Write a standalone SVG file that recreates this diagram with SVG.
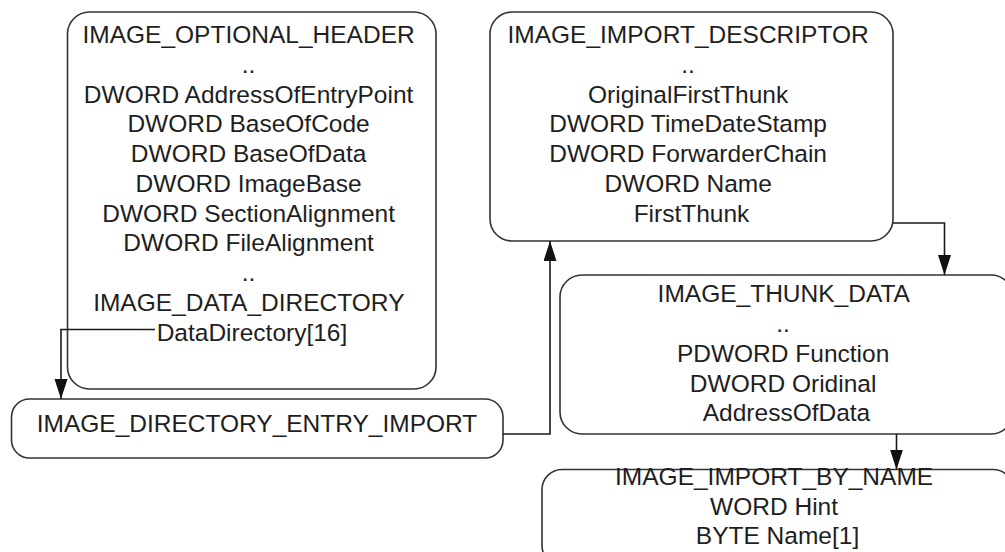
<svg xmlns="http://www.w3.org/2000/svg" width="1005" height="552" viewBox="0 0 1005 552">
  <style>
    .box { fill: #ffffff; stroke: #333333; stroke-width: 1.6; }
    .lbl { font-family: "Liberation Sans", Arial, sans-serif; font-size: 24.5px; fill: #1e1e1e; text-anchor: middle; }
    .wire { fill: none; stroke: #1a1a1a; stroke-width: 1.6; }
  </style>
  <defs>
    <marker id="arrow" markerUnits="userSpaceOnUse" markerWidth="20" markerHeight="14" refX="20" refY="6.5" orient="auto">
      <path d="M0,0 L20,6.5 L0,13 z" fill="#111111"/>
    </marker>
  </defs>

  <rect width="1005" height="552" fill="#ffffff"/>

  <!-- IMAGE_OPTIONAL_HEADER -->
  <g id="optional-header">
    <rect class="box" x="67.5" y="12" width="368.5" height="377" rx="22" ry="22"/>
    <text class="lbl">
      <tspan x="252" y="43">IMAGE_OPTIONAL_HEADER</tspan>
      <tspan x="252" y="72.75">..</tspan>
      <tspan x="252" y="102.5">DWORD AddressOfEntryPoint</tspan>
      <tspan x="252" y="132.25">DWORD BaseOfCode</tspan>
      <tspan x="252" y="162">DWORD BaseOfData</tspan>
      <tspan x="252" y="191.75">DWORD ImageBase</tspan>
      <tspan x="252" y="221.5">DWORD SectionAlignment</tspan>
      <tspan x="252" y="251.25">DWORD FileAlignment</tspan>
      <tspan x="252" y="281">..</tspan>
      <tspan x="252" y="310.75">IMAGE_DATA_DIRECTORY</tspan>
      <tspan x="252" y="340.5">DataDirectory[16]</tspan>
    </text>
  </g>

  <!-- IMAGE_IMPORT_DESCRIPTOR -->
  <g id="import-descriptor">
    <rect class="box" x="490" y="12" width="403" height="229" rx="22" ry="22"/>
    <text class="lbl">
      <tspan x="691.5" y="43">IMAGE_IMPORT_DESCRIPTOR</tspan>
      <tspan x="691.5" y="72.75">..</tspan>
      <tspan x="691.5" y="102.5">OriginalFirstThunk</tspan>
      <tspan x="691.5" y="132.25">DWORD TimeDateStamp</tspan>
      <tspan x="691.5" y="162">DWORD ForwarderChain</tspan>
      <tspan x="691.5" y="191.75">DWORD Name</tspan>
      <tspan x="691.5" y="221.5">FirstThunk</tspan>
    </text>
  </g>

  <!-- IMAGE_DIRECTORY_ENTRY_IMPORT -->
  <g id="directory-entry-import">
    <rect class="box" x="11.5" y="399" width="491.5" height="59" rx="18" ry="18"/>
    <text class="lbl" x="257" y="431.5">IMAGE_DIRECTORY_ENTRY_IMPORT</text>
  </g>

  <!-- IMAGE_THUNK_DATA -->
  <g id="thunk-data">
    <rect class="box" x="560" y="275" width="453" height="159" rx="22" ry="22"/>
    <text class="lbl">
      <tspan x="786.5" y="302.3">IMAGE_THUNK_DATA</tspan>
      <tspan x="786.5" y="332">..</tspan>
      <tspan x="786.5" y="361.7">PDWORD Function</tspan>
      <tspan x="786.5" y="391.5">DWORD Oridinal</tspan>
      <tspan x="786.5" y="421.3">AddressOfData</tspan>
    </text>
  </g>

  <!-- IMAGE_IMPORT_BY_NAME -->
  <g id="import-by-name">
    <rect class="box" x="542" y="469.5" width="471" height="96" rx="20" ry="20"/>
    <text class="lbl">
      <tspan x="777.5" y="485">IMAGE_IMPORT_BY_NAME</tspan>
      <tspan x="777.5" y="514.5">WORD Hint</tspan>
      <tspan x="777.5" y="544">BYTE Name[1]</tspan>
    </text>
  </g>

  <!-- connectors -->
  <g id="connectors">
    <path class="wire" d="M155,329.5 H61 V399" marker-end="url(#arrow)"/>
    <path class="wire" d="M503,434 H550 V241" marker-end="url(#arrow)"/>
    <path class="wire" d="M893,223 H944.5 V275" marker-end="url(#arrow)"/>
    <path class="wire" d="M896.5,434 V469.5" marker-end="url(#arrow)"/>
  </g>
</svg>
